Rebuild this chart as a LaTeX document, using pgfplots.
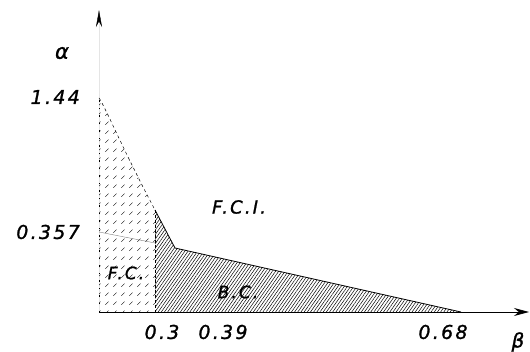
\documentclass[border=0pt]{standalone}
\usepackage{pgfplots}
\pgfplotsset{compat=1.18}
\usepackage{fontspec}
\newfontfamily\lab{DejaVu Sans}[LetterSpace=12, FakeBold=1.2]
\usetikzlibrary{patterns,patterns.meta,arrows.meta}
\pgfdeclarepatternformonly{sparsedash}{\pgfqpoint{0bp}{0bp}}{\pgfqpoint{8bp}{9bp}}{\pgfqpoint{8bp}{9bp}}{%
  \pgfsetlinewidth{0.5pt}%
  \pgfpathmoveto{\pgfqpoint{1.5bp}{2.5bp}}%
  \pgfpathlineto{\pgfqpoint{5bp}{6bp}}%
  \pgfusepath{stroke}}
\begin{document}
\begin{tikzpicture}
\useasboundingbox (0,0) rectangle (530bp,352bp);
\begin{axis}[
  at={(99bp,40bp)}, anchor=south west,
  x=1bp, y=1bp,
  xmin=0, xmax=430, ymin=0, ymax=302,
  axis lines=left,
  x axis line style={line width=0.7pt, -{Stealth[length=15bp,width=8bp]}},
  y axis line style={draw=gray!20, line width=0.4pt, -{Stealth[length=17bp,width=6bp,black]}},
  xtick={63,124,344}, xticklabels={0.3,0.39,0.68},
  ytick={80,215}, yticklabels={0.357,1.44},
  major tick length=0pt,
  tick label style={font=\lab\itshape\fontsize{19bp}{22bp}\selectfont, inner sep=0pt},
  xticklabel style={anchor=center, yshift=-20bp},
  yticklabel style={anchor=east, xshift=-19bp},
  clip=false,
]
% F.C. region (sparse dashed hatch)
\addplot[draw=none, pattern=sparsedash] coordinates {(0,214)(2,211)(5,205)(9,197)(17,180)(29,155)(44,125)(56,102)} \closedcycle;
% B.C. region (dense hatch)
\addplot[draw=none, pattern={Lines[angle=55,distance=2.6bp,line width=0.5pt]}] coordinates {(56,102)(76,64)(362,0)} \closedcycle;
% boundaries
\addplot[black, line width=0.5pt, dash pattern=on 3bp off 3bp] coordinates {(0,214)(2,211)(5,205)(9,197)(17,180)(29,155)(44,125)(56,102)};
\addplot[black, line width=0.8pt] coordinates {(56,102)(76,64)(362,0)};
\addplot[black, line width=0.6pt, dash pattern=on 3bp off 2bp] coordinates {(56,102)(56,0)};
\addplot[black, line width=0.8pt, dash pattern=on 1.5bp off 6bp] coordinates {(0,0)(0,214)};
\addplot[gray, line width=0.4pt] coordinates {(0,80)(56,69)};
% labels
\node[font=\lab\itshape\fontsize{18bp}{21bp}\selectfont] at (axis cs:140,105) {F.C.I.};
\node[font=\lab\itshape\fontsize{17bp}{20bp}\selectfont] at (axis cs:139,20) {B.C.};
\node[font=\lab\itshape\fontsize{17bp}{20bp}\selectfont] at (axis cs:27,39) {F.C.};
\node[font=\lab\itshape\fontsize{21bp}{24bp}\selectfont] at (axis cs:-37,259) {α};
\node[font=\lab\itshape\fontsize{20bp}{23bp}\selectfont] at (axis cs:419,-30) {β};
\end{axis}
\end{tikzpicture}
\end{document}
